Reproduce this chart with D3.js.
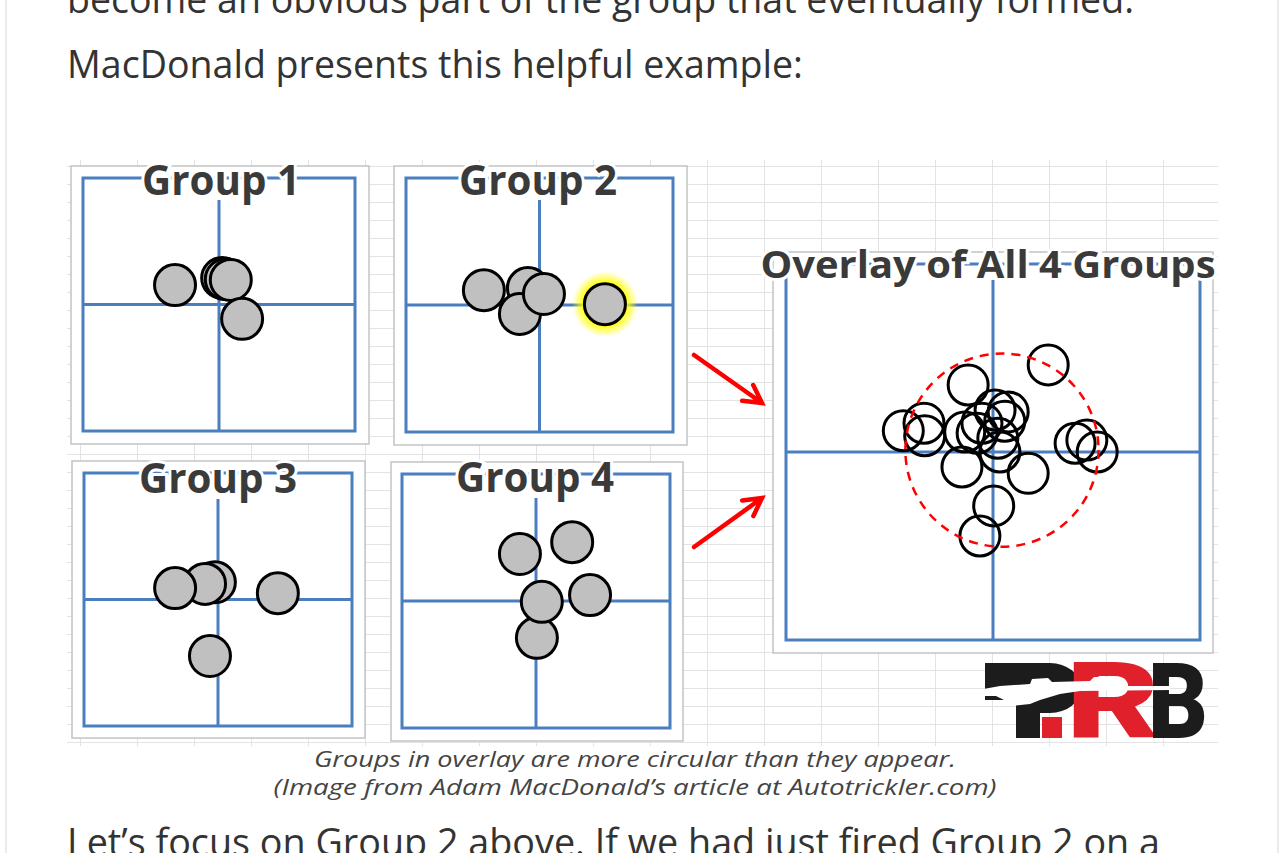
<!DOCTYPE html>
<html>
<head>
<meta charset="utf-8">
<script src="https://cdn.jsdelivr.net/npm/d3@7"></script>
<style>
  body { margin: 0; background: #fff; }
  svg { display: block; }
</style>
</head>
<body>
<div id="main"></div>
<script>
var width = 1284,
    height = 853;

// shot positions, units from the aim point (x right, y up)
var group1X = [-0.97, 0.07, 0.15, 0.26, 0.51];
var group1Y = [0.46, 0.63, 0.60, 0.58, -0.34];
var group2X = [-1.25, -0.26, -0.44, 0.10, 1.47];
var group2Y = [0.35, 0.40, -0.21, 0.26, 0.02];
var group3X = [-0.07, -0.29, -0.96, 1.34, -0.18];
var group3Y = [0.41, 0.37, 0.27, 0.15, -1.34];
var group4X = [-0.36, 0.81, 0.02, 0.13, 1.21];
var group4Y = [1.11, 1.39, -0.87, -0.02, 0.14];
var overlayX = [0.80, -0.36, -1.30, -1.00, -0.99, -0.41, -0.23, -0.16, 0.03, 0.22, 0.17, 0.07, 0.10, -0.45, 0.51, 1.19, 1.36, 1.51, 0.01, -0.19];
var overlayY = [1.39, 1.07, 0.34, 0.46, 0.26, 0.32, 0.30, 0.46, 0.67, 0.64, 0.49, 0.22, 0.00, -0.24, -0.34, 0.14, 0.19, 0.00, -0.86, -1.34];
var groupTitles = ["Group 1", "Group 2", "Group 3", "Group 4"];
var overlayTitle = "Overlay of All 4 Groups";
var flyerGroup = 1, flyerShot = 4;
var spreadCenter = [0.13, 0.03];
var spreadRadius = 1.40;
var axisDomain = [-3, 3];

var bodyLines = [
  "become an obvious part of the group that eventually formed.",
  "MacDonald presents this helpful example:",
  "Let\u2019s focus on Group 2 above. If we had just fired Group 2 on a"
];
var captionLines = [
  "Groups in overlay are more circular than they appear.",
  "(Image from Adam MacDonald\u2019s article at Autotrickler.com)"
];

var groupsX = [group1X, group2X, group3X, group4X];
var groupsY = [group1Y, group2Y, group3Y, group4Y];

// panel frames: outer box, plot box, top of the plot area, title placement
var panels = [
  {outer: [71, 166, 369, 444], inner: [83, 178, 355, 431], plotTop: 200, tx: 221, ty: 195},
  {outer: [394, 166, 687, 445], inner: [406, 178, 673, 432], plotTop: 200, tx: 538, ty: 195},
  {outer: [72, 461, 365, 738], inner: [84, 473, 352, 726], plotTop: 499, tx: 218, ty: 493},
  {outer: [391, 462, 683, 741], inner: [402, 474, 670, 728], plotTop: 498, tx: 535, ty: 492}
];
var overlayPanel = {outer: [773, 252, 1213, 653], inner: [786, 264, 1200, 640], plotTop: 280, tx: 988, ty: 278};

var blue = "#4a7ebf";

var svg = d3.select("#main").append("svg")
  .attr("width", width)
  .attr("height", height);

// page card edges
svg.selectAll("line.edge")
  .data([6, 1278])
  .enter().append("line")
  .attr("x1", function (d) { return d; })
  .attr("x2", function (d) { return d; })
  .attr("y1", 0).attr("y2", height)
  .attr("stroke", "#ebebeb")
  .attr("stroke-width", 2);

// body text
svg.selectAll("text.body")
  .data([
    {t: bodyLines[0], y: 13, w: 1067},
    {t: bodyLines[1], y: 78, w: 736},
    {t: bodyLines[2], y: 856, w: 1093}
  ])
  .enter().append("text")
  .attr("x", 67)
  .attr("y", function (d) { return d.y; })
  .attr("textLength", function (d) { return d.w; })
  .attr("lengthAdjust", "spacingAndGlyphs")
  .attr("font-family", "'Open Sans', sans-serif")
  .attr("font-size", 39)
  .attr("fill", "#333")
  .text(function (d) { return d.t; });

// spreadsheet grid behind the image
var grid = svg.append("g").attr("stroke", "#e3e3e3").attr("stroke-width", 1);
grid.selectAll("line.h")
  .data(d3.range(166, 746, 18))
  .enter().append("line")
  .attr("x1", 67).attr("x2", 1218)
  .attr("y1", function (d) { return d + 0.5; })
  .attr("y2", function (d) { return d + 0.5; });
grid.selectAll("line.v")
  .data(d3.range(80, 1219, 57))
  .enter().append("line")
  .attr("y1", 160).attr("y2", 746)
  .attr("x1", function (d) { return d + 0.5; })
  .attr("x2", function (d) { return d + 0.5; });

// yellow glow for the flyer
var defs = svg.append("defs");
var glow = defs.append("radialGradient").attr("id", "glow");
glow.append("stop").attr("offset", "0.62").attr("stop-color", "#ffff00").attr("stop-opacity", 1);
glow.append("stop").attr("offset", "1").attr("stop-color", "#ffff00").attr("stop-opacity", 0);

function drawFrame(p, title, fontSize, titleWidth) {
  var g = svg.append("g");
  g.append("rect")
    .attr("x", p.outer[0]).attr("y", p.outer[1])
    .attr("width", p.outer[2] - p.outer[0])
    .attr("height", p.outer[3] - p.outer[1])
    .attr("fill", "#fff")
    .attr("stroke", "#c4c4c4")
    .attr("stroke-width", 1.5);

  var x = d3.scaleLinear().domain(axisDomain).range([p.inner[0], p.inner[2]]);
  var y = d3.scaleLinear().domain(axisDomain).range([p.inner[3], p.inner[1]]);

  g.append("rect")
    .attr("x", p.inner[0]).attr("y", p.inner[1])
    .attr("width", p.inner[2] - p.inner[0])
    .attr("height", p.inner[3] - p.inner[1])
    .attr("fill", "none")
    .attr("stroke", blue)
    .attr("stroke-width", 3);

  // axes through the aim point
  g.append("line")
    .attr("x1", p.inner[0]).attr("x2", p.inner[2])
    .attr("y1", y(0)).attr("y2", y(0))
    .attr("stroke", blue).attr("stroke-width", 3);
  g.append("line")
    .attr("x1", x(0)).attr("x2", x(0))
    .attr("y1", p.plotTop).attr("y2", p.inner[3])
    .attr("stroke", blue).attr("stroke-width", 3);

  var marks = g.append("g");

  g.append("text")
    .attr("x", p.tx).attr("y", p.ty)
    .attr("text-anchor", "middle")
    .attr("textLength", titleWidth)
    .attr("lengthAdjust", "spacingAndGlyphs")
    .attr("font-family", "'Open Sans', sans-serif")
    .attr("font-weight", 700)
    .attr("font-size", fontSize)
    .attr("fill", "#3a3a3a")
    .attr("stroke", "#fff")
    .attr("stroke-width", 6)
    .attr("paint-order", "stroke")
    .text(title);

  return {x: x, y: y, marks: marks};
}

panels.forEach(function (p, i) {
  var f = drawFrame(p, groupTitles[i], 41, 158);
  var shots = groupsX[i].map(function (v, k) { return {x: v, y: groupsY[i][k], k: k}; });

  if (i === flyerGroup) {
    var s = shots[flyerShot];
    f.marks.append("circle")
      .attr("cx", f.x(s.x)).attr("cy", f.y(s.y))
      .attr("r", 33)
      .attr("fill", "url(#glow)");
  }

  f.marks.selectAll("circle.shot")
    .data(shots)
    .enter().append("circle")
    .attr("class", "shot")
    .attr("cx", function (d) { return f.x(d.x); })
    .attr("cy", function (d) { return f.y(d.y); })
    .attr("r", 20.5)
    .attr("fill", "#c0c0c0")
    .attr("stroke", "#000")
    .attr("stroke-width", 3);
});

// overlay of all groups
var ov = drawFrame(overlayPanel, overlayTitle, 37, 455);
var overlayShots = overlayX.map(function (v, k) { return {x: v, y: overlayY[k]}; });

ov.marks.selectAll("circle.shot")
  .data(overlayShots)
  .enter().append("circle")
  .attr("cx", function (d) { return ov.x(d.x); })
  .attr("cy", function (d) { return ov.y(d.y); })
  .attr("r", 20)
  .attr("fill", "none")
  .attr("stroke", "#000")
  .attr("stroke-width", 3);

ov.marks.append("circle")
  .attr("cx", ov.x(spreadCenter[0]))
  .attr("cy", ov.y(spreadCenter[1]))
  .attr("r", ov.x(spreadRadius) - ov.x(0))
  .attr("fill", "none")
  .attr("stroke", "#ff0000")
  .attr("stroke-width", 2.5)
  .attr("stroke-dasharray", "9,7");

// red arrows pointing at the overlay
var arrows = [[694, 355, 762, 403], [694, 547, 762, 498]];
svg.selectAll("path.arrow")
  .data(arrows)
  .enter().append("path")
  .attr("d", function (a) {
    var ang = Math.atan2(a[3] - a[1], a[2] - a[0]), L = 20, sp = 0.5;
    var p1 = [a[2] - L * Math.cos(ang - sp), a[3] - L * Math.sin(ang - sp)];
    var p2 = [a[2] - L * Math.cos(ang + sp), a[3] - L * Math.sin(ang + sp)];
    return "M" + a[0] + "," + a[1] + "L" + a[2] + "," + a[3] +
      "M" + p1 + "L" + a[2] + "," + a[3] + "L" + p2;
  })
  .attr("fill", "none")
  .attr("stroke", "#ff0000")
  .attr("stroke-width", 4.5)
  .attr("stroke-linecap", "round")
  .attr("stroke-linejoin", "miter");

// PRB logo
var logo = svg.append("g");
logo.append("path")
  .attr("d", "M985,663 H1050 A31,25 0 0 1 1050,713 H1040 V738 H1016 V700 H985 Z M1040,682 H1049 A9,7 0 0 1 1049,696 H1040 Z")
  .attr("fill-rule", "evenodd")
  .attr("fill", "#1c1c1c");
logo.selectAll("text")
  .data([
    {t: "R", x: 1066, w: 94, c: "#e0202a"},
    {t: "B", x: 1148, w: 60, c: "#1c1c1c"}
  ])
  .enter().append("text")
  .attr("x", function (d) { return d.x; })
  .attr("y", 738)
  .attr("textLength", function (d) { return d.w; })
  .attr("lengthAdjust", "spacingAndGlyphs")
  .attr("font-family", "Roboto, 'DejaVu Sans', sans-serif")
  .attr("font-weight", 900)
  .attr("font-size", 105)
  .attr("fill", function (d) { return d.c; })
  .text(function (d) { return d.t; });
logo.append("rect")
  .attr("x", 1042).attr("y", 717).attr("width", 20).attr("height", 21)
  .attr("fill", "#e0202a");
// rifle silhouette
logo.append("path")
  .attr("d", "M978,690 L1000,686 L1030,684 L1032,679 L1048,678 L1052,682 L1090,681 L1094,677 L1110,677 L1112,681 L1120,682 L1120,686 L1170,686 L1170,690 L1080,691 L1060,694 L1040,700 L1030,704 L1012,706 L1004,700 L996,696 L985,696 Z")
  .attr("fill", "#fff");

// caption
svg.selectAll("text.caption")
  .data([
    {t: captionLines[0], y: 767, w: 642},
    {t: captionLines[1], y: 795, w: 723}
  ])
  .enter().append("text")
  .attr("x", 635)
  .attr("y", function (d) { return d.y; })
  .attr("text-anchor", "middle")
  .attr("textLength", function (d) { return d.w; })
  .attr("lengthAdjust", "spacingAndGlyphs")
  .attr("font-family", "'Open Sans', sans-serif")
  .attr("font-style", "italic")
  .attr("font-size", 21.5)
  .attr("fill", "#444")
  .text(function (d) { return d.t; });
</script>
</body>
</html>
